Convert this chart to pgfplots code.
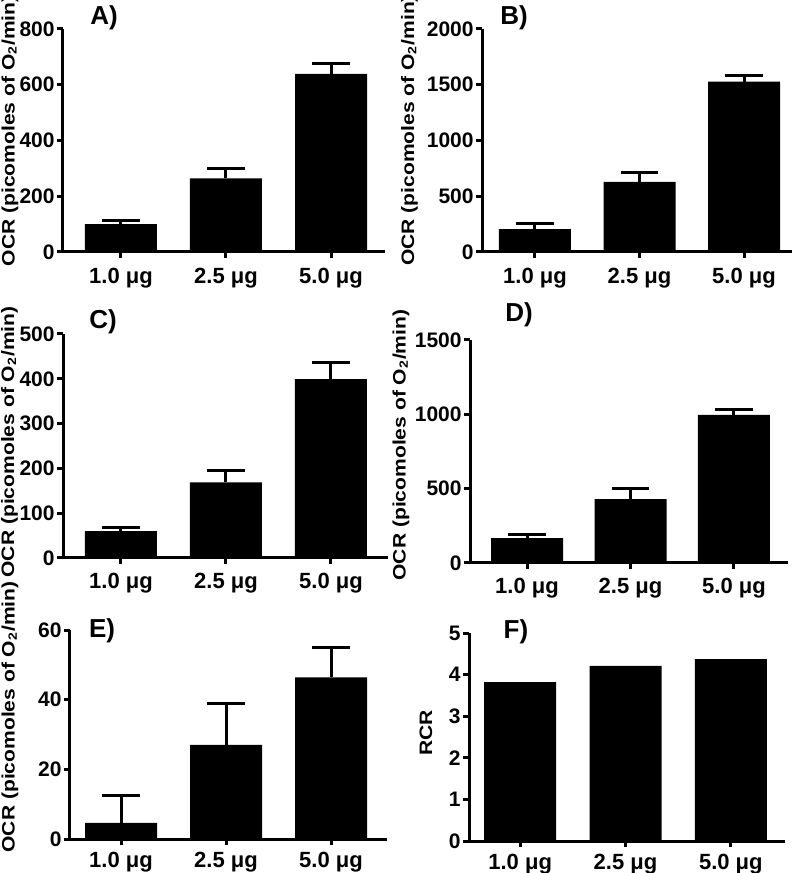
\documentclass[border=0pt]{standalone}
\usepackage{pgfplots}
\pgfplotsset{compat=1.18}
\usepackage{fontspec}
\setmainfont{Liberation Sans}
\newfontfamily\lblfont{Liberation Sans}[FakeStretch=1.17]

\pgfplotsset{
  panel/.style={
    scale only axis, anchor=south west,
    axis lines=left, axis line style={-, line width=1.5pt},
    every tick/.style={black, line width=1.5pt},
    major tick length=3pt, tick align=outside,
    ybar, bar width=36pt,
    xtick={0,1,2}, xticklabels={1.0 μg, 2.5 μg, 5.0 μg},
    ymin=0, enlargelimits=false,
    /pgf/number format/assume math mode=true,
    /pgf/number format/1000 sep={},
    xticklabel style={font=\bfseries\fontsize{11}{13}\selectfont},
    yticklabel style={font=\bfseries\fontsize{10.5}{12}\selectfont, inner xsep=1pt},
    ylabel style={font=\lblfont\bfseries\fontsize{9}{11}\selectfont, anchor=center},
    ylabel={OCR (picomoles of O\textsubscript{2}/min)},
    clip=false,
  },
  barerr/.style={fill=black, draw=none,
    error bars/.cd, y dir=plus, y explicit,
    error bar style={line width=1.5pt, black},
    error mark options={rotate=90, mark size=9.3pt, line width=1.5pt, black}},
  bar/.style={fill=black, draw=none},
}

\begin{document}
\begin{tikzpicture}
\path[use as bounding box] (0,0) rectangle (400pt,436.5pt);

% A
\begin{axis}[panel, at={(31.5pt,310.5pt)}, width=161pt, height=111.5pt,
  xmin=-0.552, xmax=2.514, ymax=800, ytick={0,200,400,600,800},
  xticklabel style={yshift=-1.5pt},
  ylabel style={at={(rel axis cs:-0.165,0.543)}}]
\addplot[barerr] table[x=x, y=y, y error=e] {
x y e
0 100 12
1 264 36
2 639 38
};
\end{axis}

% B
\begin{axis}[panel, at={(241pt,310.5pt)}, width=155pt, height=111.5pt,
  xmin=-0.507, xmax=2.459, ymax=2000, ytick={0,500,1000,1500,2000},
  xticklabel style={yshift=-1.5pt},
  ylabel style={at={(rel axis cs:-0.234,0.545)}}]
\addplot[barerr] table[x=x, y=y, y error=e] {
x y e
0 206 48
1 628 81
2 1527 58
};
\end{axis}

% C
\begin{axis}[panel, at={(31.5pt,157.5pt)}, width=162.5pt, height=112pt,
  xmin=-0.552, xmax=2.543, ymax=500, ytick={0,100,200,300,400,500},
  xticklabel style={yshift=-1pt},
  ylabel style={at={(rel axis cs:-0.165,0.518)}}]
\addplot[barerr] table[x=x, y=y, y error=e] {
x y e
0 60 8
1 169 27
2 399 38
};
\end{axis}

% D
\begin{axis}[panel, at={(235pt,155pt)}, width=159pt, height=111.5pt,
  xmin=-0.551, xmax=2.522, ymax=1500, ytick={0,500,1000,1500},
  xticklabel style={yshift=-1pt},
  ylabel style={at={(rel axis cs:-0.217,0.529)}}]
\addplot[barerr] table[x=x, y=y, y error=e] {
x y e
0 168 27
1 430 74
2 996 34
};
\end{axis}

% E
\begin{axis}[panel, at={(35pt,17pt)}, width=158.5pt, height=104.5pt,
  xmin=-0.486, xmax=2.533, ymax=60, ytick={0,20,40,60},
  ylabel style={at={(rel axis cs:-0.189,0.584)}}]
\addplot[barerr] table[x=x, y=y, y error=e] {
x y e
0 4.6 7.9
1 27.0 11.8
2 46.4 8.6
};
\end{axis}

% F
\begin{axis}[panel, at={(234.5pt,16pt)}, width=158pt, height=104pt,
  xmin=-0.486, xmax=2.514, ymax=5, ytick={0,1,2,3,4,5},
  ylabel={RCR},
  ylabel style={at={(rel axis cs:-0.136,0.519)}}]
\addplot[bar] table[x=x, y=y] {
x y
0 3.82
1 4.21
2 4.37
};
\end{axis}

\begin{scope}[every node/.style={font=\bfseries\fontsize{13}{15}\selectfont}]
\node at (52pt,427.5pt) {A)};
\node at (257pt,427.5pt) {B)};
\node at (51.5pt,275.5pt) {C)};
\node at (259.5pt,279pt) {D)};
\node at (51pt,121pt) {E)};
\node at (258pt,120.5pt) {F)};
\end{scope}
\end{tikzpicture}
\end{document}
